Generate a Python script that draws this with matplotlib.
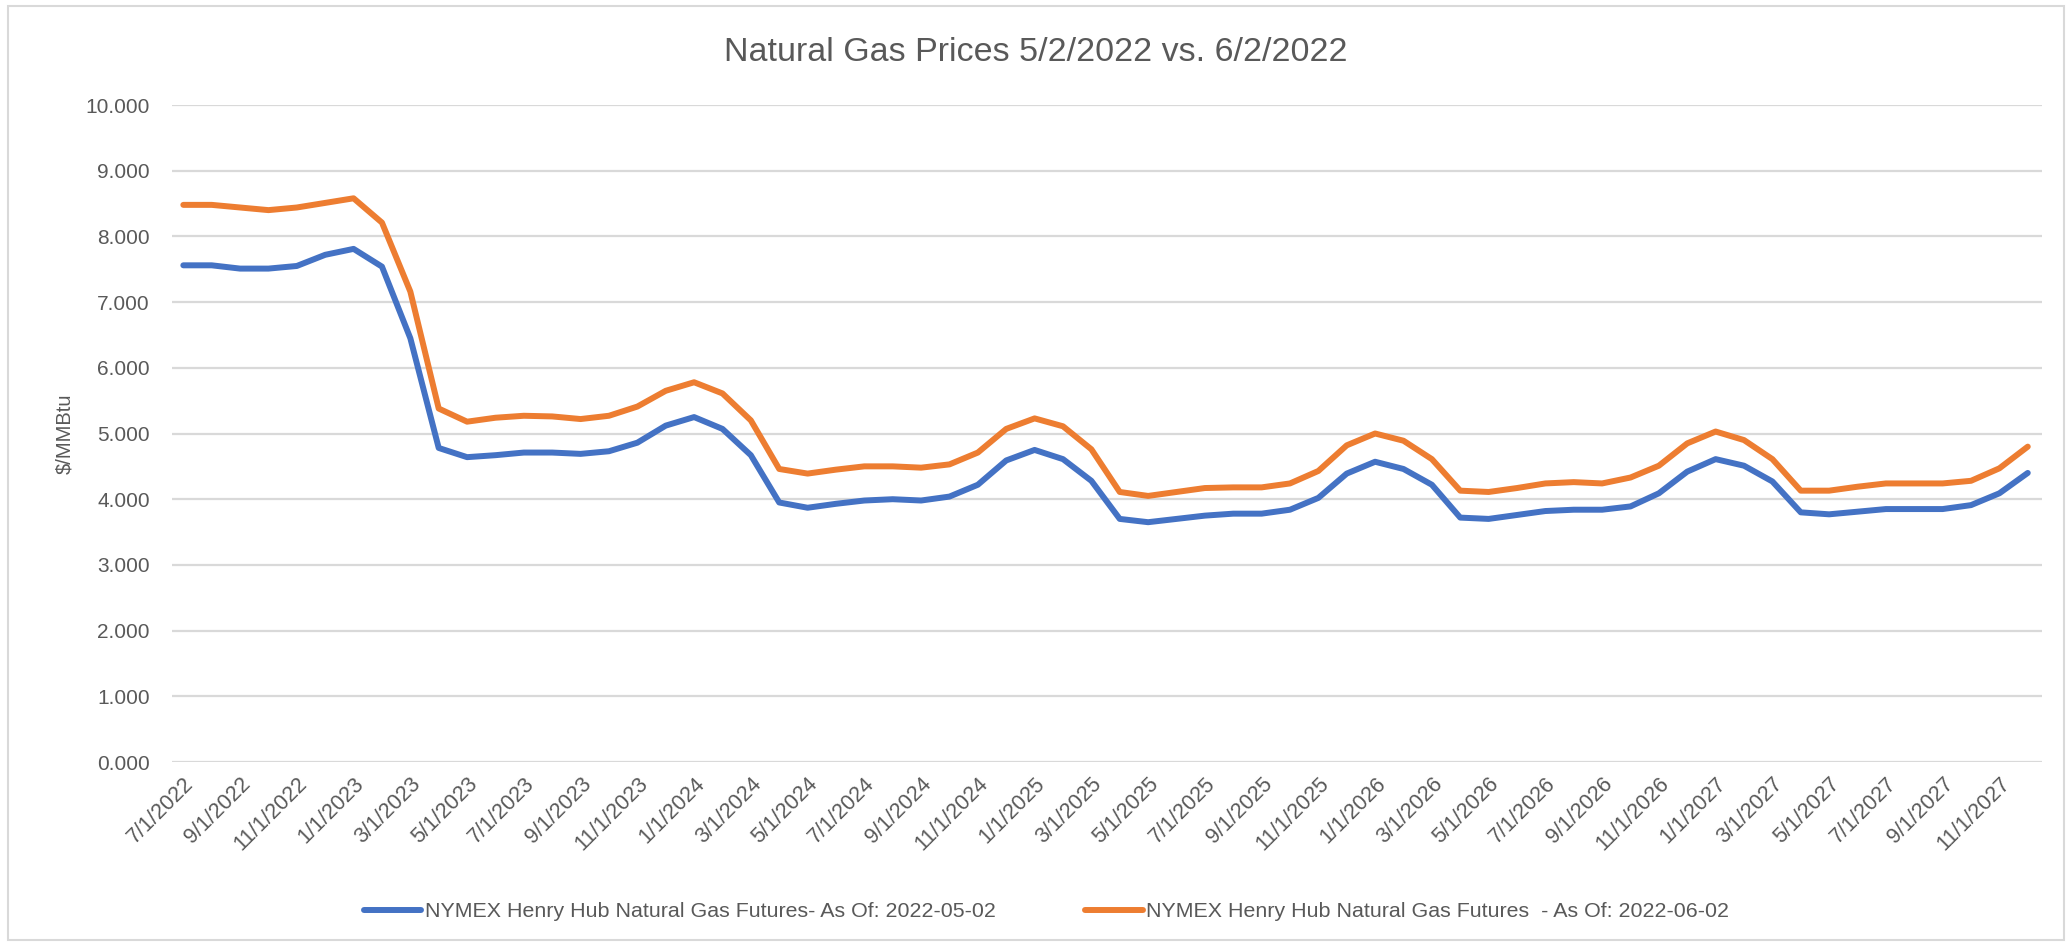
import matplotlib.pyplot as plt
import matplotlib.patches as mpatches
import numpy as np
import pandas as pd

# monthly contract dates, 7/1/2022 .. 12/1/2027
months = pd.date_range("2022-07-01", "2027-12-01", freq="MS")
month_labels = [f"{d.month}/{d.day}/{d.year}" for d in months]

may_curve = [
    7.56, 7.56, 7.51, 7.51, 7.55, 7.72, 7.81, 7.54, 6.45, 4.78,
    4.64, 4.67, 4.71, 4.71, 4.69, 4.73, 4.86, 5.12, 5.25, 5.07,
    4.67, 3.95, 3.87, 3.93, 3.98, 4.00, 3.98, 4.04, 4.22, 4.59,
    4.75, 4.61, 4.28, 3.70, 3.65, 3.70, 3.75, 3.78, 3.78, 3.84,
    4.02, 4.39, 4.57, 4.46, 4.22, 3.72, 3.70, 3.76, 3.82, 3.84,
    3.84, 3.89, 4.09, 4.42, 4.61, 4.51, 4.27, 3.80, 3.77, 3.81,
    3.85, 3.85, 3.85, 3.91, 4.09, 4.40,
]
june_curve = [
    8.48, 8.48, 8.44, 8.40, 8.44, 8.51, 8.58, 8.21, 7.16, 5.38,
    5.18, 5.24, 5.27, 5.26, 5.22, 5.27, 5.41, 5.65, 5.78, 5.61,
    5.20, 4.46, 4.39, 4.45, 4.50, 4.50, 4.48, 4.53, 4.71, 5.07,
    5.23, 5.11, 4.76, 4.11, 4.05, 4.11, 4.17, 4.18, 4.18, 4.24,
    4.43, 4.82, 5.00, 4.89, 4.61, 4.13, 4.11, 4.17, 4.24, 4.26,
    4.24, 4.33, 4.51, 4.85, 5.03, 4.90, 4.61, 4.13, 4.13, 4.19,
    4.24, 4.24, 4.24, 4.28, 4.47, 4.80,
]
series_names = [
    "NYMEX Henry Hub Natural Gas Futures- As Of: 2022-05-02",
    "NYMEX Henry Hub Natural Gas Futures  - As Of: 2022-06-02",
]

plt.rcParams["font.family"] = ["Liberation Sans", "DejaVu Sans"]
grey = "#595959"

fig = plt.figure(figsize=(20.72, 9.46), dpi=100)
ax = fig.add_axes([0.083, 0.1945, 0.9025, 0.6945])

x = np.arange(len(months))
ax.plot(x, may_curve, color="#4472C4", lw=4.3, solid_capstyle="round",
        solid_joinstyle="round", label=series_names[0])
ax.plot(x, june_curve, color="#ED7D31", lw=4.3, solid_capstyle="round",
        solid_joinstyle="round", label=series_names[1])

ax.set_ylim(0, 10)
ax.set_xlim(-0.4, len(months) - 0.5)
ax.set_yticks(np.arange(0, 11, 1))
ax.set_yticklabels([f"{v:.3f}" for v in range(11)])
ax.set_xticks(x[::2])
ax.set_xticklabels(month_labels[::2], rotation=45, ha="right", rotation_mode="anchor")
ax.tick_params(axis="y", length=0, colors=grey, labelsize=15, pad=16)
ax.tick_params(axis="x", length=0, colors=grey, labelsize=15.5, pad=8)
ax.grid(axis="y", color="#D9D9D9", lw=1.6)
ax.set_axisbelow(True)
for s in ax.spines.values():
    s.set_visible(False)

ax.set_ylabel("$/MMBtu", color=grey, fontsize=14.5, labelpad=8)
fig.text(0.5, 0.944, "Natural Gas Prices 5/2/2022 vs. 6/2/2022", ha="center",
         va="center", color=grey, fontsize=24.5)

fig.legend(loc="center", bbox_to_anchor=(0.505, 0.036), ncol=2, frameon=False,
           fontsize=15.4, labelcolor=grey, handlelength=2.7, columnspacing=4.2,
           handletextpad=0.15)

# chart area border
fig.patches.append(mpatches.Rectangle((0.004, 0.006), 0.992, 0.988,
                                      transform=fig.transFigure, fill=False,
                                      edgecolor="#D9D9D9", lw=1.5))

fig.savefig("out.png", dpi=100, facecolor="white")
